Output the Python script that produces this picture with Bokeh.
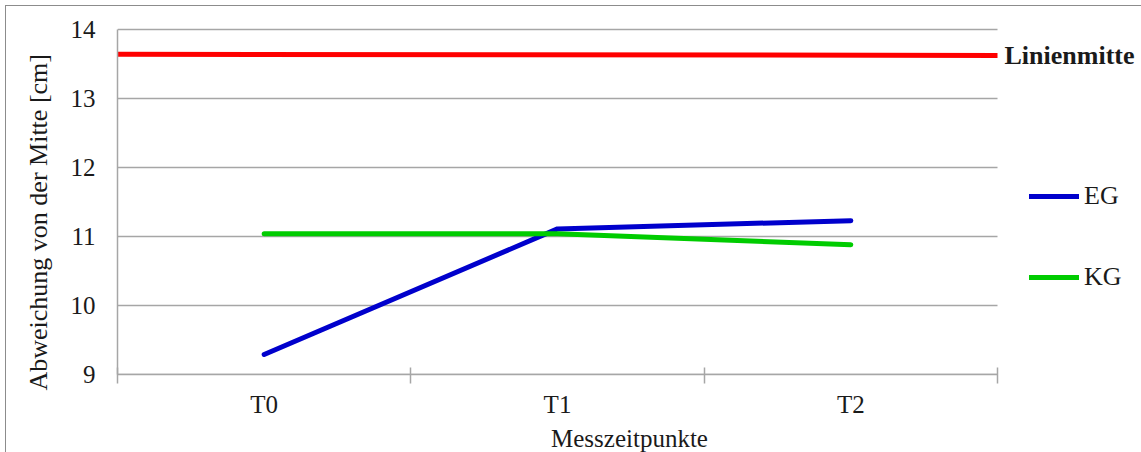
from bokeh.plotting import figure
from bokeh.models import Range1d, FixedTicker, Legend, LegendItem, Label, Title
from bokeh.embed import file_html
from bokeh.resources import INLINE

# Measurement times and mean deviation from the centre (cm)
categories = ["T0", "T1", "T2"]
eg_values = [9.29, 11.11, 11.23]
kg_values = [11.04, 11.04, 10.88]
# Reference line "Linienmitte" (start / end value across the whole axis)
linienmitte = [13.64, 13.625]
y_ticks = [9, 10, 11, 12, 13, 14]

FONT = "Liberation Serif"
TEXT = "#1a1a1a"
GRID = "#a6a6a6"

n = len(categories)
x_centers = [i + 0.5 for i in range(n)]
x_bounds = list(range(n + 1))

# The frame runs to the right edge so that the end label and the legend
# (which live right of the plotted area) are not clipped; the plotted
# area itself covers x = 0 .. n.
PLOT_W = 880
FRAME_W = 1024
PX_PER_UNIT = 69
FRAME_H = 347

p = figure(frame_width=FRAME_W, frame_height=FRAME_H,
           min_border_left=111, min_border_top=21, min_border_right=0,
           min_border_bottom=78,
           x_range=Range1d(0, n * FRAME_W / PLOT_W),
           y_range=Range1d(y_ticks[0], y_ticks[0] + FRAME_H / PX_PER_UNIT),
           output_backend="svg", toolbar_location=None,
           margin=(5, 0, 0, 5),
           styles={"border-top": "1px solid #8c8c8c",
                   "border-left": "1px solid #8c8c8c"})
p.outline_line_color = None
p.background_fill_color = "white"
p.border_fill_color = "white"

# x axis: labels centred on each category, tick marks on category borders
xa = p.xaxis[0]
xa.bounds = (0, n)
xa.ticker = FixedTicker(ticks=x_centers, minor_ticks=x_bounds)
xa.major_label_overrides = {x: c for x, c in zip(x_centers, categories)}
xa.major_tick_in = 0
xa.major_tick_out = 0
xa.minor_tick_in = 7
xa.minor_tick_out = 9
xa.minor_tick_line_color = GRID
xa.minor_tick_line_width = 1.5
xa.axis_line_color = GRID
xa.axis_line_width = 1.5
xa.major_label_text_font = FONT
xa.major_label_text_font_size = "25px"
xa.major_label_text_color = TEXT
xa.major_label_standoff = 7
xa.axis_label = "Messzeitpunkte"
xa.axis_label_text_font = FONT
xa.axis_label_text_font_size = "25px"
xa.axis_label_text_font_style = "normal"
xa.axis_label_text_color = TEXT
xa.axis_label_standoff = 4

ya = p.yaxis[0]
ya.bounds = (y_ticks[0], y_ticks[-1])
ya.ticker = FixedTicker(ticks=y_ticks)
ya.major_tick_in = 0
ya.major_tick_out = 0
ya.minor_tick_line_color = None
ya.axis_line_color = GRID
ya.axis_line_width = 1.5
ya.major_label_text_font = FONT
ya.major_label_text_font_size = "25px"
ya.major_label_text_color = TEXT
ya.major_label_standoff = 22

# y axis title, starting a little below the axis foot
p.add_layout(Title(text="Abweichung von der Mitte [cm]", align="left",
                   offset=-16, standoff=30, vertical_align="bottom",
                   text_font=FONT, text_font_size="26px",
                   text_font_style="normal", text_color=TEXT), "left")

# horizontal grid limited to the plotted area
p.xgrid.grid_line_color = None
p.ygrid.grid_line_color = None
p.segment(x0=[0] * len(y_ticks), x1=[n] * len(y_ticks), y0=y_ticks,
          y1=y_ticks, line_color=GRID, line_width=1.3, level="underlay")

red = p.line([0, n], linienmitte, line_color="#ff0000", line_width=5)
eg = p.line(x_centers, eg_values, line_color="#0000cc", line_width=5,
            line_cap="round", line_join="round")
kg = p.line(x_centers, kg_values, line_color="#00cc00", line_width=5,
            line_cap="round", line_join="round")

p.add_layout(Label(x=n, y=linienmitte[-1], x_offset=7, text="Linienmitte",
                   text_font=FONT, text_font_size="26px",
                   text_font_style="bold", text_color=TEXT,
                   text_baseline="middle"))

legend = Legend(items=[LegendItem(label="EG", renderers=[eg]),
                       LegendItem(label="KG", renderers=[kg])],
                location=(912, 82), orientation="vertical",
                glyph_width=50, glyph_height=30, label_height=30,
                label_standoff=5, spacing=51, padding=0, margin=0,
                border_line_color=None, background_fill_alpha=0,
                label_text_font=FONT, label_text_font_size="26px",
                label_text_color=TEXT)
p.add_layout(legend, "center")

open("out.html", "w").write(file_html(p, INLINE))
